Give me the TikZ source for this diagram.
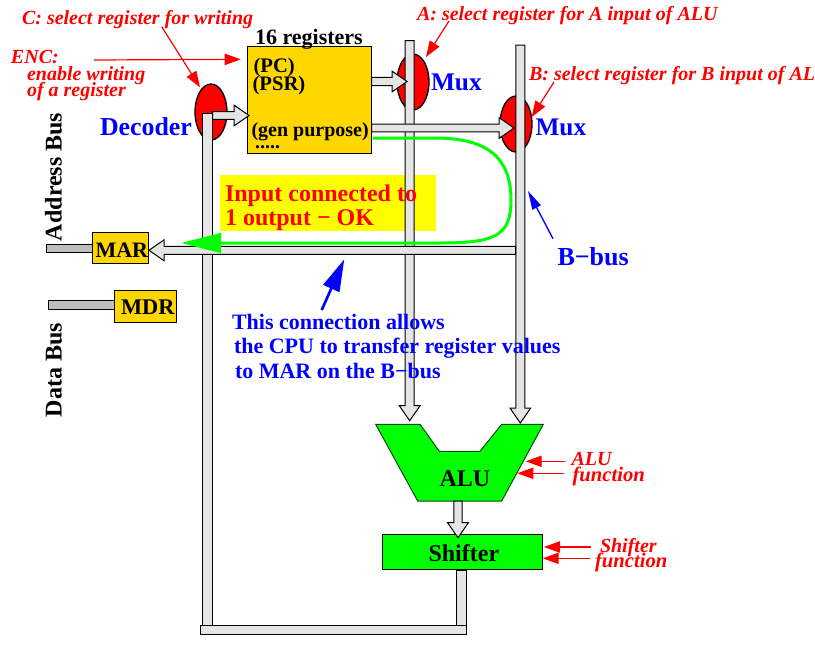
\documentclass[tikz,border=0pt]{standalone}
\usepackage{fontspec}
\setmainfont{Liberation Serif}
\usetikzlibrary{arrows.meta,calc,shapes.geometric}
\definecolor{busgray}{HTML}{E5E5E5}
\definecolor{bargray}{HTML}{BEBEBE}
\definecolor{regorange}{HTML}{FFD700}
\definecolor{alugreen}{HTML}{00FF00}
\definecolor{noteyellow}{HTML}{FFFF00}
\tikzset{
  outline/.style={draw=black,line width=0.75pt},
  busbar/.style={outline,fill=busgray},
  grayBar/.style={outline,fill=bargray},
  regbox/.style={outline,fill=regorange},
  alubox/.style={outline,fill=alugreen},
  muxshape/.style={outline,line width=1pt,fill=red,ellipse,inner sep=0pt,minimum width=24pt,minimum height=42pt},
  lbl/.style={anchor=base west,inner sep=0pt,outer sep=0pt},
  redlbl/.style={lbl,text=red,font=\bfseries\itshape\fontsize{15}{17}\selectfont},
  reglbl/.style={lbl,font=\bfseries\fontsize{15.5}{18}\selectfont},
  bluelbl/.style={lbl,text=blue,font=\bfseries\fontsize{19}{22}\selectfont},
  noteblue/.style={lbl,text=blue,font=\bfseries\fontsize{16.5}{19}\selectfont},
  notered/.style={lbl,text=red,font=\bfseries\fontsize{18}{21}\selectfont},
  blacklbl/.style={lbl,font=\bfseries\fontsize{18}{21}\selectfont},
  redarrow/.style={red,line width=0.9pt,-{Triangle[length=12pt,width=8.5pt]}},
  bluearrow/.style={blue,line width=1pt,-{Triangle[length=14pt,width=7pt]}},
  bigblue/.style={blue,line width=2pt,-{Triangle[length=24pt,width=13pt]}},
  greenarrow/.style={alugreen,line width=2.25pt,line join=round,-{Triangle[length=30pt,width=14.6pt]}},
}
% name, style, x1, y1, x2, y2 in reference pixels
\newcommand{\pxbox}[6]{%
  \pgfmathsetmacro{\pw}{(#5-#3)*0.75}%
  \pgfmathsetmacro{\ph}{(#6-#4)*0.75}%
  \node[#2,inner sep=0pt,outer sep=0pt,minimum width=\pw pt,minimum height=\ph pt]
    (#1) at ({(#3+#5)/2},{(#4+#6)/2}) {};%
}
% block arrow from coordinate #1 to tip #2; #3 shaft half width, in pt
\newcommand{\blockarrow}[3]{%
  \coordinate (hb) at ($(#2)!11.25pt!(#1)$);%
  \draw[busbar,line join=miter]
    ($(#1)!#3!90:(#2)$) -- ($(hb)!#3!90:(#2)$) -- ($(hb)!7.8pt!90:(#2)$) -- (#2)
    -- ($(hb)!7.8pt!-90:(#2)$) -- ($(hb)!#3!-90:(#2)$) -- ($(#1)!#3!-90:(#2)$) -- cycle;%
}
\begin{document}
\begin{tikzpicture}[x=0.75pt,y=-0.75pt]
\useasboundingbox (0,0) rectangle (815,651);

% note background
\pxbox{note}{fill=noteyellow}{220}{175}{435.7}{230.7}

% selectors
\node[muxshape] (dec) at (211,112) {};
\node[muxshape] (muxA) at (413,82) {};
\node[muxshape] (muxB) at (516,124) {};

% registers and functional units
\pxbox{regs}{regbox}{247.5}{46}{371.5}{153}
\pxbox{mar}{regbox}{92.3}{232.3}{148.3}{263.3}
\pxbox{mdr}{regbox}{114.3}{290.3}{176.7}{322.3}
\pxbox{marbar}{grayBar}{46.3}{244.7}{92.3}{252.3}
\pxbox{mdrbar}{grayBar}{48.3}{300.7}{114.3}{309.3}
\pxbox{shifter}{alubox}{382.3}{534.3}{542.7}{569.3}
\draw[outline,draw=black!70!alugreen,fill=alugreen] (375.7,424.3) -- (420,424.3) -- (439.3,451.3) -- (480,451.3) -- (501.7,424.3)
  -- (543.3,424.3) -- (501.7,501) -- (417.7,501) -- cycle;

% buses
\pxbox{decbus}{busbar}{202.7}{113}{212.7}{625.3}
\pxbox{outbus}{busbar}{456.7}{570}{466.7}{625.3}
\pxbox{botbus}{busbar}{200.3}{625.3}{466.7}{634.3}
\coordinate (aTop) at (409.7,40.7);   \coordinate (aTip) at (409.7,420.7);
\coordinate (bTop) at (520.3,45);     \coordinate (bTip) at (520.3,423);
\blockarrow{aTop}{aTip}{3.4pt}
\blockarrow{bTop}{bTip}{3.4pt}

% block arrows
\coordinate (d0) at (212.7,115.5);  \coordinate (d1) at (249,115.5);
\coordinate (p0) at (371.5,81.5);   \coordinate (p1) at (407,81.5);
\coordinate (g0) at (371.5,128);    \coordinate (g1) at (514,128);
\coordinate (m0) at (515.7,250.3);  \coordinate (m1) at (149,250.3);
\coordinate (s0) at (458,501);      \coordinate (s1) at (458,537.7);
\blockarrow{d0}{d1}{2.9pt}
\blockarrow{p0}{p1}{3.1pt}
\blockarrow{g0}{g1}{2.9pt}
\blockarrow{m0}{m1}{3pt}
\blockarrow{s0}{s1}{3.1pt}

% green data path
\coordinate (gStart) at (373,138);
\coordinate (gTip) at (181,243);
\draw[greenarrow] (gStart) -- (433,138) .. controls (475,138) and (511,148) .. (511,200)
  .. controls (511,236) and (495,243) .. (440,243) -- (gTip);

% texts
\node[reglbl,font=\bfseries\fontsize{16.5}{19}\selectfont] (t16) at (255,44.5) {16 registers};
\node[reglbl] (tpc) at (253.5,72) {(PC)};
\node[reglbl] (tpsr) at (252.5,90) {(PSR)};
\node[reglbl,font=\bfseries\fontsize{15}{18}\selectfont] (tgen) at (251.5,136) {(gen purpose)};
\node[reglbl,font=\bfseries\fontsize{15}{18}\selectfont] (tdots) at (255,148) {.....};
\node[blacklbl,font=\bfseries\fontsize{16.5}{19}\selectfont] (tmar) at (95.5,257) {MAR};
\node[blacklbl,font=\bfseries\fontsize{16.8}{19}\selectfont] (tmdr) at (121,314) {MDR};
\node[blacklbl] (talu) at (439.5,486) {ALU};
\node[blacklbl] (tshift) at (428.5,561) {Shifter};
\node[blacklbl,rotate=90] (taddr) at (61.5,241) {Address Bus};
\node[blacklbl,rotate=90] (tdata) at (61.5,417) {Data Bus};

\node[bluelbl,font=\bfseries\fontsize{19.4}{22}\selectfont] (tdecoder) at (100,135) {Decoder};
\node[bluelbl] (tmuxA) at (431,90.5) {Mux};
\node[bluelbl] (tmuxB) at (535.5,135) {Mux};
\node[bluelbl,font=\bfseries\fontsize{19.5}{22}\selectfont] (tbbus) at (557.5,265) {B−bus};

\node[notered] (tin1) at (225,201) {Input connected to};
\node[notered] (tin2) at (225,225) {1 output − OK};

\node[noteblue] (tb1) at (232,329) {This connection allows};
\node[noteblue] (tb2) at (234,353.5) {the CPU to transfer register values};
\node[noteblue] (tb3) at (235,378) {to MAR on the B−bus};

\node[redlbl] (tc) at (22,24) {C: select register for writing};
\node[redlbl] (tenc) at (11,63) {ENC:};
\node[redlbl] (ten2) at (27,80) {enable writing};
\node[redlbl] (ten3) at (27,96) {of a register};
\node[redlbl] (ta) at (417,20) {A: select register for A input of ALU};
\node[redlbl] (tb) at (529,80) {B: select register for B input of AL};
\node[redlbl] (talu1) at (571.5,465) {ALU};
\node[redlbl,font=\bfseries\itshape\fontsize{15.5}{17}\selectfont] (talu2) at (572.5,481.5) {function};
\node[redlbl] (tsh1) at (600,552.5) {Shifter};
\node[redlbl,font=\bfseries\itshape\fontsize{15.5}{17}\selectfont] (tsh2) at (595,567.5) {function};

% control arrows
\coordinate (c0) at (161.7,26.7); \coordinate (c1) at (200,87.3);
\coordinate (e0) at (94,60);      \coordinate (e1) at (240.7,59.3);
\coordinate (a0) at (449,21);     \coordinate (a1) at (426,57);
\coordinate (b0) at (554,82);     \coordinate (b1) at (531.7,117);
\coordinate (f0) at (565,461.3);  \coordinate (f1) at (525.7,461.3);
\coordinate (f2) at (564,473.3);  \coordinate (f3) at (517.3,473.3);
\coordinate (h0) at (590.7,547);  \coordinate (h1) at (544,547);
\coordinate (h2) at (590,558.3);  \coordinate (h3) at (542.7,558.3);
\draw[redarrow] (c0) -- (c1);
\draw[redarrow] (e0) -- (e1);
\draw[redarrow] (a0) -- (a1);
\draw[redarrow] (b0) -- (b1);
\draw[redarrow] (f0) -- (f1);
\draw[redarrow] (f2) -- (f3);
\draw[redarrow] (h0) -- (h1);
\draw[redarrow] (h2) -- (h3);

\coordinate (bb0) at (553,238.7); \coordinate (bb1) at (528,191);
\coordinate (cc0) at (321.7,310); \coordinate (cc1) at (344.3,259.3);
\draw[bluearrow] (bb0) -- (bb1);
\draw[bigblue] (cc0) -- (cc1);
\end{tikzpicture}
\end{document}
